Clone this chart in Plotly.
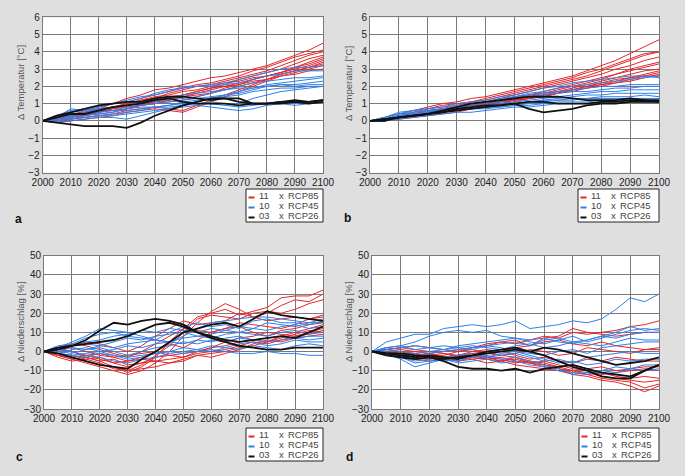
import plotly.graph_objects as go

years = list(range(2000, 2101, 5))

# ---------------- Panel a: temperature ----------------
a_rcp85 = [
    [0,0.2,0.3,0.6,0.8,1.0,1.3,1.5,1.8,1.9,2.1,2.3,2.5,2.6,2.8,3.0,3.2,3.5,3.8,4.1,4.5],
    [0,0.1,0.4,0.5,0.7,1.0,1.1,1.3,1.5,1.7,1.9,2.1,2.2,2.4,2.6,2.9,3.1,3.4,3.7,3.9,4.1],
    [0,0.0,0.2,0.4,0.6,0.8,1.0,1.2,1.3,1.6,1.8,2.0,2.1,2.3,2.5,2.7,2.9,3.2,3.5,3.8,4.0],
    [0,0.1,0.3,0.3,0.5,0.7,0.9,1.0,1.2,1.4,1.5,1.7,1.9,2.1,2.4,2.6,2.8,3.0,3.3,3.6,3.8],
    [0,-0.1,0.1,0.3,0.4,0.5,0.7,0.9,1.0,1.2,1.4,1.6,1.8,2.0,2.2,2.4,2.6,2.8,3.1,3.3,3.6],
    [0,0.2,0.4,0.5,0.6,0.8,0.9,1.1,1.1,1.3,1.5,1.7,1.9,2.0,2.1,2.4,2.6,2.8,3.0,3.2,3.5],
    [0,0.0,0.1,0.2,0.3,0.4,0.6,0.7,0.8,0.7,0.6,0.9,1.2,1.5,1.8,2.1,2.4,2.7,2.9,3.1,3.4],
    [0,-0.1,0.0,0.1,0.2,0.3,0.5,0.6,0.7,0.6,0.5,0.8,1.1,1.4,1.7,2.0,2.3,2.6,2.8,3.0,3.2],
    [0,0.1,0.3,0.4,0.6,0.6,0.7,0.9,1.1,1.2,1.4,1.5,1.6,1.9,2.1,2.3,2.4,2.7,2.9,3.1,3.3],
    [0,0.1,0.2,0.4,0.5,0.7,0.8,0.9,1.0,1.1,1.2,1.4,1.6,1.8,2.0,2.2,2.4,2.6,2.7,2.9,3.0],
    [0,0.2,0.3,0.5,0.7,0.8,1.0,1.2,1.4,1.5,1.7,1.8,2.0,2.2,2.3,2.5,2.6,2.8,3.1,3.4,3.7],
]
a_rcp45 = [
    [0,0.3,0.6,0.7,0.9,1.0,1.2,1.4,1.5,1.7,2.0,2.0,2.1,2.2,2.4,2.6,2.8,3.0,3.1,3.1,3.2],
    [0,0.2,0.7,0.6,0.8,1.0,1.1,1.3,1.6,1.8,1.9,2.0,2.0,2.1,2.2,2.4,2.6,2.7,2.9,2.9,2.9],
    [0,0.1,0.3,0.5,0.7,0.8,0.9,1.0,1.1,1.3,1.5,1.6,1.7,1.8,2.0,2.2,2.3,2.4,2.5,2.5,2.6],
    [0,0.1,0.2,0.3,0.5,0.6,0.8,0.9,1.0,1.1,1.2,1.3,1.4,1.5,1.7,1.9,2.1,2.2,2.3,2.4,2.5],
    [0,0.0,0.1,0.2,0.3,0.4,0.5,0.6,0.8,0.9,1.0,1.1,1.3,1.5,1.6,1.8,2.0,2.1,2.1,2.2,2.3],
    [0,0.2,0.5,0.6,0.7,0.8,0.9,1.1,1.2,1.2,1.3,1.4,1.6,1.8,1.9,1.9,2.0,2.1,2.0,2.1,2.1],
    [0,0.1,0.3,0.4,0.4,0.5,0.7,0.8,0.8,0.9,1.1,1.2,1.3,1.4,1.5,1.7,1.8,1.9,1.9,2.0,2.0],
    [0,-0.1,0.0,0.1,0.2,0.2,0.1,0.3,0.5,0.7,0.9,1.0,1.1,1.0,1.0,1.3,1.5,1.7,1.8,1.9,2.0],
    [0,0.1,0.2,0.4,0.5,0.6,0.6,0.7,0.8,0.8,0.9,1.0,1.0,0.9,0.8,0.9,1.0,1.1,1.0,1.1,1.2],
    [0,0.0,0.1,0.2,0.3,0.3,0.4,0.5,0.6,0.7,0.8,0.9,0.8,0.7,0.6,0.7,0.9,1.0,0.9,1.0,1.1],
]
a_rcp26 = [
    [0,0.3,0.5,0.7,0.9,1.0,1.1,1.1,1.3,1.4,1.4,1.3,1.2,1.3,1.1,1.0,1.0,1.1,1.2,1.1,1.2],
    [0,-0.1,-0.2,-0.3,-0.3,-0.3,-0.4,-0.1,0.3,0.6,0.9,1.1,1.3,1.3,1.3,1.0,1.0,1.1,1.1,1.0,1.1],
    [0,0.2,0.4,0.4,0.6,0.8,0.9,1.0,1.2,1.3,1.1,1.0,1.0,1.0,0.9,1.0,1.0,1.0,1.1,1.1,1.2],
]

# ---------------- Panel b: temperature ----------------
b_rcp85 = [
    [0,0.2,0.4,0.6,0.8,1.0,1.1,1.3,1.4,1.6,1.8,2.0,2.2,2.4,2.6,2.9,3.2,3.5,3.9,4.3,4.7],
    [0,0.1,0.3,0.5,0.7,0.9,1.0,1.1,1.3,1.5,1.7,1.9,2.1,2.3,2.5,2.8,3.0,3.3,3.6,3.9,4.0],
    [0,0.1,0.3,0.4,0.6,0.7,0.9,1.1,1.2,1.4,1.6,1.8,2.0,2.2,2.4,2.6,2.9,3.2,3.5,3.8,4.0],
    [0,0.0,0.2,0.3,0.5,0.7,0.8,1.0,1.1,1.3,1.5,1.7,1.9,2.1,2.3,2.5,2.7,3.0,3.2,3.5,3.7],
    [0,0.1,0.2,0.4,0.5,0.6,0.8,0.9,1.0,1.2,1.4,1.5,1.7,1.9,2.1,2.3,2.5,2.7,3.0,3.2,3.4],
    [0,0.0,0.2,0.3,0.4,0.6,0.7,0.9,1.0,1.1,1.3,1.5,1.6,1.8,2.0,2.2,2.4,2.7,2.9,3.1,3.3],
    [0,0.1,0.2,0.3,0.4,0.5,0.7,0.8,0.9,1.1,1.2,1.4,1.6,1.7,1.9,2.1,2.3,2.5,2.7,2.9,3.0],
    [0,0.1,0.3,0.4,0.6,0.7,0.8,0.9,1.0,1.2,1.3,1.4,1.5,1.7,1.8,2.0,2.1,2.3,2.5,2.7,2.9],
    [0,0.0,0.1,0.2,0.3,0.4,0.5,0.7,0.8,1.0,1.1,1.3,1.4,1.6,1.8,1.9,2.1,2.2,2.4,2.6,2.8],
    [0,0.1,0.2,0.3,0.5,0.6,0.7,0.8,1.0,1.1,1.2,1.3,1.5,1.6,1.7,1.9,2.0,2.2,2.3,2.5,2.7],
    [0,0.0,0.2,0.3,0.4,0.5,0.6,0.8,0.9,1.0,1.2,1.3,1.4,1.6,1.8,2.0,2.2,2.4,2.5,2.6,2.6],
]
b_rcp45 = [
    [0,0.2,0.4,0.6,0.7,0.8,1.0,1.1,1.2,1.4,1.5,1.7,1.9,2.0,2.2,2.3,2.4,2.5,2.6,2.6,2.5],
    [0,0.1,0.3,0.5,0.6,0.7,0.8,1.0,1.1,1.3,1.4,1.6,1.7,1.9,2.0,2.1,2.2,2.3,2.4,2.5,2.6],
    [0,0.2,0.5,0.6,0.7,0.8,0.9,1.0,1.1,1.2,1.4,1.5,1.6,1.7,1.8,1.9,2.0,2.0,2.1,2.1,2.1],
    [0,0.1,0.3,0.4,0.5,0.6,0.8,0.9,1.0,1.1,1.3,1.4,1.5,1.6,1.7,1.7,1.8,1.9,1.9,2.0,2.0],
    [0,0.1,0.2,0.3,0.5,0.6,0.7,0.8,0.9,1.0,1.1,1.2,1.3,1.4,1.5,1.6,1.7,1.7,1.8,1.8,1.8],
    [0,0.0,0.2,0.3,0.4,0.5,0.6,0.7,0.8,0.9,1.0,1.1,1.2,1.3,1.4,1.5,1.5,1.6,1.6,1.6,1.6],
    [0,0.1,0.3,0.4,0.5,0.5,0.6,0.7,0.8,0.8,0.9,1.0,1.1,1.2,1.3,1.3,1.4,1.4,1.4,1.5,1.4],
    [0,0.2,0.4,0.5,0.6,0.6,0.7,0.7,0.8,0.9,1.0,1.1,1.2,1.2,1.2,1.3,1.3,1.3,1.3,1.3,1.3],
    [0,0.1,0.2,0.3,0.4,0.5,0.6,0.7,0.7,0.8,0.9,0.9,1.0,1.1,1.1,1.1,1.2,1.2,1.2,1.2,1.2],
    [0,0.0,0.1,0.2,0.3,0.4,0.5,0.5,0.6,0.7,0.8,0.8,0.9,1.0,1.0,1.0,1.1,1.1,1.1,1.1,1.1],
]
b_rcp26 = [
    [0,0.0,0.2,0.3,0.4,0.6,0.8,1.0,1.1,1.2,1.3,1.4,1.4,1.4,1.3,1.2,1.2,1.2,1.3,1.2,1.1],
    [0,0.1,0.2,0.3,0.4,0.5,0.7,0.8,0.9,0.9,1.0,0.7,0.5,0.6,0.7,0.9,1.0,1.0,1.1,1.1,1.1],
    [0,0.1,0.2,0.3,0.4,0.5,0.6,0.7,0.8,0.9,1.0,1.1,1.1,1.0,1.0,1.0,1.1,1.1,1.2,1.2,1.2],
]

# ---------------- Panel c: precipitation ----------------
c_rcp85 = [
    [0,2,0,-3,-5,-8,-11,-8,-3,5,12,18,20,22,19,21,23,28,29,29,32],
    [0,-2,-4,-6,-8,-10,-12,-10,-6,0,8,15,21,25,22,18,20,24,27,26,30],
    [0,-3,-5,-4,-6,-9,-10,-7,-2,3,10,17,19,18,17,20,21,20,22,25,27],
    [0,1,3,5,4,2,0,3,8,12,16,14,15,16,20,18,16,17,18,17,19],
    [0,-1,-3,-2,-4,-6,-5,-3,0,4,2,6,10,12,15,14,13,12,14,17,18],
    [0,2,4,3,1,-1,-3,0,4,8,12,11,10,12,13,10,8,11,12,14,15],
    [0,-2,-4,-3,-5,-4,-7,-6,-3,-2,-1,0,2,3,5,6,5,8,10,12,14],
    [0,1,0,-2,-1,-3,-5,-4,-5,-4,-3,-1,0,1,3,5,4,6,8,10,12],
    [0,-1,-2,-4,-3,-6,-8,-6,-5,-6,-4,-2,-1,0,2,3,5,7,9,11,10],
    [0,1,2,0,-2,-3,-2,-1,0,-2,-3,0,2,5,7,8,10,9,8,9,11],
    [0,-2,-3,-5,-7,-8,-10,-9,-8,-6,-5,-2,-3,-1,1,4,6,5,7,8,9],
]
c_rcp45 = [
    [0,2,5,8,12,11,10,8,6,5,8,12,15,16,17,18,18,17,16,15,17],
    [0,3,4,7,9,10,8,7,6,10,13,15,13,14,12,16,17,15,15,14,16],
    [0,1,3,5,6,8,9,11,10,12,11,10,12,11,13,12,15,14,13,15,15],
    [0,2,3,4,3,5,7,6,8,9,10,8,9,11,10,12,11,13,14,12,13],
    [0,1,2,1,3,2,4,5,6,5,7,8,7,9,10,9,8,10,11,9,10],
    [0,-1,1,2,0,1,3,2,4,5,4,6,5,7,8,6,7,8,7,8,8],
    [0,0,-1,1,2,0,-2,0,2,3,5,4,6,5,7,6,5,6,7,6,7],
    [0,-1,-2,-3,-1,-2,-4,-3,-1,0,2,1,3,2,4,5,3,4,6,5,5],
    [0,1,0,-2,-3,-5,-6,-4,-3,-1,0,1,0,2,1,3,2,1,3,4,3],
    [0,-1,-2,-1,0,-2,-3,-2,-1,0,-1,0,1,0,-1,-1,0,-1,-1,-2,-2],
]
c_rcp26 = [
    [0,2,3,6,11,15,14,16,17,16,14,10,7,5,3,2,1,1,2,2,2],
    [0,-1,-3,-5,-7,-8,-9,-4,0,5,10,12,14,15,13,17,21,19,18,17,16],
    [0,1,3,4,5,6,8,11,14,15,13,10,8,6,5,6,7,8,7,10,13],
]

# ---------------- Panel d: precipitation ----------------
d_rcp85 = [
    [0,2,1,0,-1,0,1,2,3,5,4,6,8,7,10,9,10,11,13,14,16],
    [0,1,2,3,2,1,0,2,4,5,6,3,7,8,12,10,9,8,9,10,10],
    [0,-1,0,-2,-1,-3,-2,0,1,0,2,3,5,6,4,3,5,3,2,1,2],
    [0,0,-2,-1,-3,-2,0,1,-1,-2,-1,1,0,-2,-1,2,1,0,-1,1,1],
    [0,1,2,1,0,-1,-2,-3,-1,0,-2,-4,-3,-5,-6,-4,-5,-3,-4,-5,-5],
    [0,-1,-3,-4,-5,-4,-3,-1,0,-2,-3,-5,-6,-8,-7,-9,-8,-10,-9,-8,-8],
    [0,-2,-1,-3,-2,-4,-5,-3,-4,-5,-3,-6,-5,-7,-9,-10,-12,-11,-10,-9,-10],
    [0,-1,-2,-1,-3,-4,-3,-2,-4,-3,-5,-6,-8,-9,-10,-12,-11,-13,-14,-13,-14],
    [0,0,-1,-2,-1,-3,-2,-1,-3,-4,-6,-5,-7,-8,-10,-11,-13,-14,-15,-16,-15],
    [0,1,0,-1,-2,-1,-3,-4,-3,-5,-4,-6,-7,-9,-11,-12,-14,-15,-16,-19,-17],
    [0,-1,-2,-3,-4,-3,-5,-4,-6,-5,-7,-8,-9,-10,-12,-13,-15,-16,-18,-21,-18],
]
d_rcp45 = [
    [0,5,7,9,9,12,13,14,13,14,16,12,13,14,16,15,17,22,28,26,30],
    [0,2,3,5,8,10,11,10,11,8,7,6,7,5,4,6,8,10,13,11,12],
    [0,1,2,3,2,1,3,4,5,6,7,5,4,6,8,5,7,9,11,12,11],
    [0,2,3,1,2,3,2,1,3,4,5,3,6,7,5,6,8,7,9,10,10],
    [0,1,0,-1,0,1,2,3,2,1,3,4,2,3,5,4,3,5,7,6,6],
    [0,-1,-2,-3,-1,0,1,2,3,2,0,-1,-2,0,1,-1,2,3,4,5,5],
    [0,-1,-3,-5,-4,-3,-2,-1,-3,-2,-1,-3,-5,-4,-6,-3,-2,-1,0,-1,-1],
    [0,0,-2,-4,-3,-5,-4,-2,-3,-1,0,-2,-4,-6,-5,-7,-6,-4,-5,-4,-4],
    [0,-1,-4,-8,-6,-4,-5,-3,-2,-4,-3,-5,-7,-9,-12,-11,-10,-8,-9,-7,-7],
    [0,-2,-3,-6,-5,-4,-6,-5,-4,-6,-5,-7,-8,-10,-11,-12,-10,-11,-9,-10,-9],
]
d_rcp26 = [
    [0,-2,-3,-4,-3,-5,-8,-9,-9,-10,-9,-11,-9,-8,-7,-9,-11,-12,-13,-10,-7],
    [0,-1,-1,-2,-3,-4,-3,-2,0,1,2,0,2,1,-1,-3,-5,-7,-6,-5,-3],
    [0,-1,-2,-3,-2,-3,-4,-2,-1,0,1,0,-2,-5,-8,-10,-13,-14,-14,-10,-7],
]

legend_counts = ["11", "10", "03"]
legend_names = ["RCP85", "RCP45", "RCP26"]
panel_letters = ["a", "b", "c", "d"]
y_titles = ["Δ Temperatur [°C]", "Δ Temperatur [°C]", "Δ Niederschlag [%]", "Δ Niederschlag [%]"]

W, H = 685, 476
RED, BLUE, BLACK = "#e4262b", "#2f7fe8", "#111111"
colors = [RED, BLUE, BLACK]
widths = [1.0, 1.0, 1.8]

# panel pixel boxes: (left, right, top, bottom)
boxes = [(42.7, 323, 17.3, 172.7), (370, 659, 17.3, 172.7),
         (44, 323, 255.7, 409), (372, 659, 255.7, 409)]
yranges = [[-3, 6], [-3, 6], [-30, 50], [-30, 50]]
ydticks = [1, 1, 10, 10]
panels = [
    (a_rcp85, a_rcp45, a_rcp26),
    (b_rcp85, b_rcp45, b_rcp26),
    (c_rcp85, c_rcp45, c_rcp26),
    (d_rcp85, d_rcp45, d_rcp26),
]
legend_boxes = [(246, 323, 189, 222), (578, 659, 189, 222),
                (246, 323, 428, 461), (579, 659, 428, 461)]
title_x = [20, 348, 20, 348]
title_y = [83, 83, 322, 322]
letter_pos = [(18, 219), (348, 218), (19, 457), (349, 457)]

def px(x):
    return x / W

def py(y):
    return 1 - y / H

fig = go.Figure()
FONT = "Liberation Sans, Arial, sans-serif"
GRID = "#7a7a7a"

shapes = []
annotations = []
for i, groups in enumerate(panels):
    xa = "x" if i == 0 else f"x{i+1}"
    ya = "y" if i == 0 else f"y{i+1}"
    for g, series in enumerate(groups):
        for s in series:
            fig.add_trace(go.Scatter(x=years, y=s, mode="lines", xaxis=xa, yaxis=ya,
                                     line=dict(color=colors[g], width=widths[g]),
                                     showlegend=False, hoverinfo="skip"))
    l, r, t, b = boxes[i]
    axis_common = dict(showgrid=True, gridcolor=GRID, gridwidth=1, showline=True,
                       linecolor=GRID, linewidth=1, mirror=True, ticks="",
                       automargin=False,
                       tickfont=dict(family=FONT, size=10, color="#222"), zeroline=False)
    fig.layout[f"xaxis{'' if i == 0 else i+1}"] = dict(
        domain=[px(l), px(r)], range=[2000, 2100], dtick=10, tick0=2000,
        anchor=ya, **axis_common)
    fig.layout[f"yaxis{'' if i == 0 else i+1}"] = dict(
        domain=[py(b), py(t)], range=yranges[i], dtick=ydticks[i],
        anchor=xa, **axis_common)
    annotations.append(dict(x=px(title_x[i]), y=py(title_y[i]), xref="paper", yref="paper",
                            text=y_titles[i], textangle=-90, showarrow=False,
                            font=dict(family=FONT, size=9.5, color="#555"),
                            xanchor="center", yanchor="middle"))
    lx, ly = letter_pos[i]
    annotations.append(dict(x=px(lx), y=py(ly), xref="paper", yref="paper",
                            text="<b>" + panel_letters[i] + "</b>", showarrow=False,
                            font=dict(family=FONT, size=12, color="#111"),
                            xanchor="center", yanchor="middle"))
    bl, br, bt, bb = legend_boxes[i]
    shapes.append(dict(type="rect", xref="paper", yref="paper",
                       x0=px(bl), x1=px(br), y0=py(bb), y1=py(bt),
                       line=dict(color="#222", width=1), fillcolor="white", layer="above"))
    for k in range(3):
        rowy = bt + 6.5 + k * 10
        shapes.append(dict(type="line", xref="paper", yref="paper",
                           x0=px(bl + 2.5), x1=px(bl + 8.5), y0=py(rowy + 2), y1=py(rowy + 2),
                           line=dict(color=colors[k], width=2), layer="above"))
        fnt = dict(family=FONT, size=9.5, color="#444")
        annotations.append(dict(x=px(bl + 12), y=py(rowy), xref="paper", yref="paper",
                                text=legend_counts[k], showarrow=False, xanchor="left",
                                yanchor="middle", borderpad=0, font=fnt))
        annotations.append(dict(x=px(bl + 35), y=py(rowy), xref="paper", yref="paper",
                                text="x", showarrow=False, xanchor="center",
                                yanchor="middle", borderpad=0, font=fnt))
        annotations.append(dict(x=px(bl + 41), y=py(rowy), xref="paper", yref="paper",
                                text=legend_names[k], showarrow=False, xanchor="left",
                                yanchor="middle", borderpad=0, font=fnt))

fig.update_layout(width=W, height=H, margin=dict(l=0, r=0, t=0, b=0, autoexpand=False),
                  paper_bgcolor="#dfdfdf", plot_bgcolor="white",
                  shapes=shapes, annotations=annotations, showlegend=False)
fig.write_html("out.html", config={"displayModeBar": False},
               post_script="document.body.style.margin='0';document.body.style.overflow='hidden';")
